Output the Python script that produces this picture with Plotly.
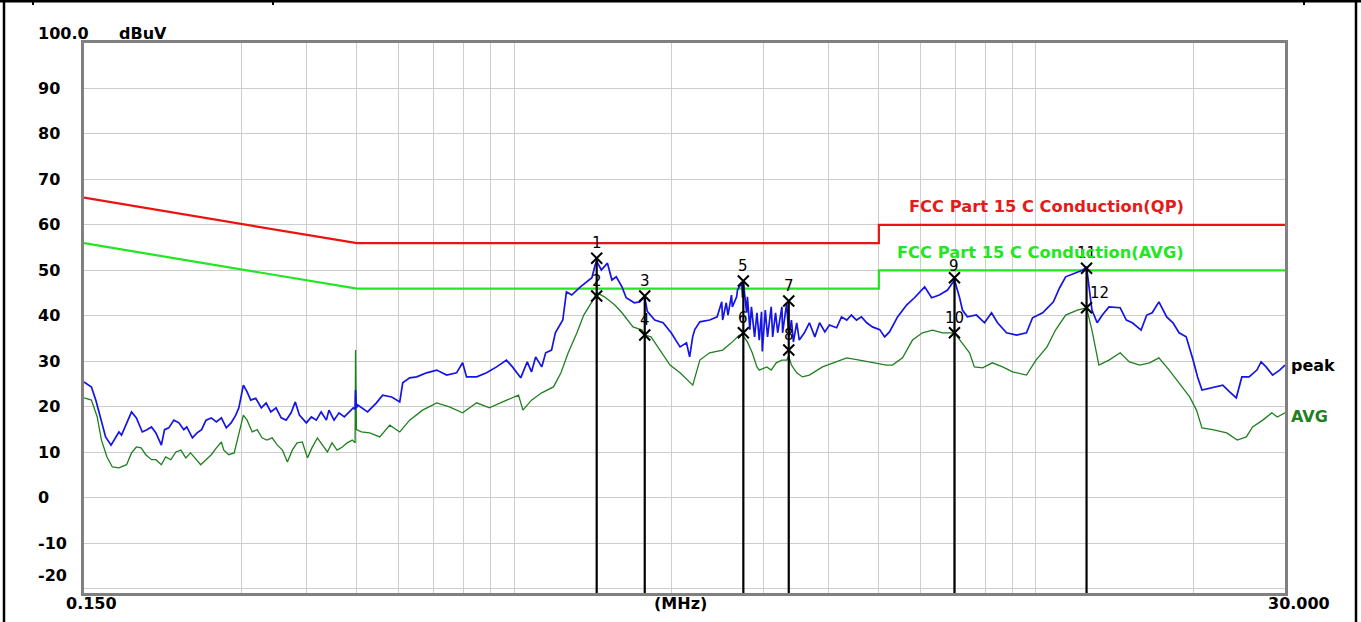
import math
import plotly.graph_objects as go

# ---------------- data (MHz, dBuV) ----------------
peak_freq = [0.150,0.155,0.158,0.162,0.165,0.169,0.173,0.175,0.177,0.181,
             0.185,0.189,0.194,0.198,0.202,0.206,0.211,0.214,0.218,0.223,
             0.228,0.233,0.236,0.242,0.247,0.252,0.257,0.263,0.269,0.275,
             0.281,0.287,0.293,0.297,0.303,0.308,0.313,0.320,0.328,0.335,
             0.342,0.350,0.358,0.366,0.374,0.381,0.388,0.400,0.409,0.418,
             0.427,0.437,0.442,0.452,0.462,0.473,0.483,0.492,0.496,0.497,
             0.499,0.502,0.524,0.545,0.560,0.583,0.604,0.612,0.631,0.651,
             0.680,0.711,0.743,0.776,0.797,0.811,0.848,0.886,0.926,0.967,
             0.993,1.03,1.06,1.08,1.10,1.13,1.15,1.18,1.20,1.22,
             1.24,1.26,1.29,1.34,1.38,1.41,1.43,1.44,1.47,1.51,
             1.54,1.57,1.61,1.64,1.70,1.74,1.78,1.80,1.86,1.93,
             2.00,2.08,2.14,2.17,2.20,2.22,2.27,2.37,2.45,2.50,
             2.51,2.55,2.57,2.61,2.62,2.67,2.68,2.73,2.74,2.75,
             2.79,2.80,2.83,2.85,2.89,2.92,2.95,2.98,2.99,3.03,
             3.06,3.11,3.13,3.17,3.20,3.26,3.27,3.33,3.36,3.40,
             3.43,3.48,3.52,3.60,3.68,3.77,3.85,3.94,4.02,4.15,
             4.24,4.34,4.43,4.53,4.63,4.74,4.86,5.02,5.13,5.24,
             5.43,5.65,5.85,6.12,6.31,6.53,6.77,6.98,7.14,7.23,
             7.39,7.69,7.97,8.22,8.44,8.78,9.18,9.59,9.85,10.3,
             10.8,11.1,11.4,11.9,12.3,12.5,12.8,13.1,13.4,13.8,
             14.5,14.9,15.3,15.9,16.3,16.7,17.2,17.8,18.3,18.8,
             19.4,20.0,20.4,20.8,21.8,22.8,23.5,24.2,24.8,25.6,
             26.5,27.0,27.6,28.4,29.3,30.0]
peak_db = [25.5,24.4,21.5,17.1,13.4,11.6,13.4,14.5,13.8,16.5,
           18.9,17.6,14.5,15.0,15.6,14.3,11.6,15.0,15.4,17.1,
           16.5,15.0,15.6,13.2,14.3,15.0,17.1,17.6,16.7,17.6,
           15.4,16.5,18.2,19.8,24.8,23.3,21.5,21.9,19.8,20.9,
           18.9,19.8,17.6,17.1,18.7,21.1,18.2,16.5,17.8,17.1,
           18.9,17.1,19.3,17.1,18.7,17.8,18.9,19.8,19.5,23.7,
           19.8,20.4,18.9,20.9,22.6,22.2,21.1,25.3,26.4,26.6,
           27.5,28.1,27.0,27.5,29.7,26.6,26.6,27.5,28.8,30.3,
           28.8,26.4,29.9,27.7,31.0,28.8,31.9,32.5,36.3,37.6,
           39.1,45.3,44.6,46.4,47.5,48.4,51.2,52.0,50.1,51.6,
           47.9,48.6,46.4,44.0,42.9,43.1,44.2,41.0,39.1,38.5,
           36.3,33.2,34.1,31.0,35.5,37.0,38.7,39.1,39.8,43.1,
           39.1,42.9,40.2,44.6,42.0,44.2,45.7,47.3,44.0,47.5,
           40.7,44.2,37.0,42.0,35.4,40.7,34.7,40.9,32.2,41.3,
           35.4,42.0,35.4,40.7,36.3,42.0,36.3,42.9,35.4,39.1,
           34.3,38.5,34.7,36.3,38.5,35.4,38.5,36.5,38.0,37.4,
           39.8,39.1,40.2,39.1,39.8,38.5,37.6,37.0,35.4,36.5,
           39.8,42.4,44.0,46.4,44.0,44.6,45.7,47.9,44.0,41.3,
           39.8,40.2,38.5,40.7,38.5,36.3,35.8,36.3,39.6,40.7,
           43.1,46.2,48.6,49.5,50.1,50.8,41.3,38.5,40.2,42.0,
           41.8,39.1,38.5,36.9,40.2,40.7,43.1,39.8,38.5,36.3,
           35.4,30.3,26.6,23.7,24.2,24.8,23.3,22.0,26.6,26.6,
           28.1,29.9,28.8,27.0,28.1,29.2]

avg_freq = [0.150,0.155,0.159,0.162,0.166,0.170,0.175,0.181,0.185,0.189,
            0.193,0.197,0.202,0.206,0.211,0.215,0.220,0.225,0.230,0.235,
            0.240,0.246,0.251,0.257,0.263,0.269,0.275,0.278,0.284,0.291,
            0.296,0.303,0.308,0.315,0.322,0.329,0.336,0.344,0.352,0.360,
            0.368,0.376,0.384,0.393,0.402,0.410,0.420,0.429,0.439,0.448,
            0.458,0.469,0.479,0.490,0.496,0.497,0.499,0.510,0.529,0.553,
            0.578,0.604,0.631,0.668,0.711,0.752,0.797,0.848,0.897,0.951,
            1.02,1.04,1.08,1.13,1.19,1.23,1.27,1.32,1.36,1.41,
            1.44,1.49,1.56,1.61,1.69,1.76,1.78,1.83,1.90,1.99,
            2.08,2.20,2.27,2.37,2.51,2.62,2.70,2.74,2.80,2.86,
            2.92,2.95,3.05,3.11,3.18,3.26,3.33,3.36,3.40,3.48,
            3.57,3.68,3.90,4.15,4.34,4.59,4.86,5.17,5.31,5.55,
            5.80,6.06,6.34,6.62,6.98,7.23,7.46,7.62,7.90,8.25,
            8.63,9.02,9.59,10.0,10.5,10.9,11.4,12.0,12.5,12.8,
            13.2,13.8,14.5,15.1,15.8,16.5,17.2,18.0,18.8,19.7,
            20.3,20.8,21.8,23.2,24.3,25.3,26.0,27.2,28.3,29.0,
            30.0]
avg_db = [22.0,21.5,17.8,12.7,9.0,6.8,6.6,7.3,9.9,11.2,
          11.0,9.5,8.4,8.4,7.3,9.0,8.4,10.1,10.5,8.8,
          9.9,8.4,7.3,8.4,9.5,11.0,12.3,10.5,9.5,9.9,
          13.2,18.2,17.1,14.5,15.0,13.2,12.7,13.2,11.6,10.5,
          7.9,10.5,12.1,12.3,8.8,11.0,13.2,11.6,10.1,12.1,
          10.5,11.2,12.1,12.7,12.1,32.5,15.0,14.5,14.3,13.4,
          16.0,14.5,17.1,19.3,20.9,20.0,18.7,20.9,19.8,21.1,
          22.6,19.3,21.5,23.1,24.4,27.5,31.9,36.3,40.2,43.1,
          45.1,44.2,42.4,40.7,37.6,36.9,35.8,35.4,32.5,29.2,
          27.5,24.8,30.3,31.9,32.5,34.3,35.8,35.8,34.3,31.9,
          28.8,28.1,28.8,28.1,29.7,30.3,30.3,31.2,29.2,27.5,
          26.6,27.0,28.8,29.9,30.8,30.3,29.7,29.2,29.2,30.8,
          34.7,36.3,36.9,36.3,36.3,34.1,31.9,28.8,28.6,29.7,
          28.8,27.7,27.0,30.3,33.2,36.9,40.2,41.3,41.8,36.9,
          29.2,30.3,31.9,29.9,29.2,29.7,30.8,28.1,25.3,22.2,
          19.3,15.4,15.0,14.3,12.7,13.4,15.6,17.1,18.7,17.8,
          18.7]

limit_freq = [0.15, 0.5, 5.0, 5.0, 30.0]
qp_limit = [66, 56, 56, 60, 60]
avg_limit = [56, 46, 46, 50, 50]

marker_ids = ["1", "2", "3", "4", "5", "6", "7", "8", "9", "10", "11", "12"]
marker_freq = [1.44, 1.44, 1.78, 1.78, 2.75, 2.75, 3.36, 3.36, 6.98, 6.98, 12.5, 12.5]
marker_db = [52.7, 44.4, 44.4, 35.8, 47.7, 36.3, 43.3, 32.5, 48.4, 36.3, 50.5, 41.8]

y_ticks = [100, 90, 80, 70, 60, 50, 40, 30, 20, 10, 0, -10, -20]
y_tick_text = ["100.0", "90", "80", "70", "60", "50", "40", "30", "20", "10", "0", "-10", "-20"]
x_grid = [0.3, 0.4, 0.5, 0.6, 0.7, 0.8, 0.9, 1, 2, 3, 4, 5, 6, 7, 8, 9, 10, 20]

assert len(peak_freq) == len(peak_db)
assert len(avg_freq) == len(avg_db)

Y_MIN, Y_MAX = -20.9, 100
BOLD = "DejaVu Sans"

fig = go.Figure()

# limit lines
fig.add_trace(go.Scatter(x=limit_freq, y=qp_limit, mode="lines",
                         line=dict(color="#ee1111", width=2.2), hoverinfo="skip"))
fig.add_trace(go.Scatter(x=limit_freq, y=avg_limit, mode="lines",
                         line=dict(color="#22e622", width=2.2), hoverinfo="skip"))

# measured traces
fig.add_trace(go.Scatter(x=avg_freq, y=avg_db, mode="lines",
                         line=dict(color="#1f801f", width=1.3), hoverinfo="skip"))
fig.add_trace(go.Scatter(x=peak_freq, y=peak_db, mode="lines",
                         line=dict(color="#1414e6", width=1.7), hoverinfo="skip"))

# vertical marker lines (from the upper marker of each pair down to the axis)
vx, vy = [], []
for i in range(0, len(marker_freq), 2):
    top = max(marker_db[i], marker_db[i + 1])
    vx += [marker_freq[i], marker_freq[i], None]
    vy += [top, Y_MIN, None]
fig.add_trace(go.Scatter(x=vx, y=vy, mode="lines",
                         line=dict(color="black", width=2.2), hoverinfo="skip"))

# markers
fig.add_trace(go.Scatter(
    x=marker_freq, y=marker_db, mode="markers",
    marker=dict(symbol="x-thin-open", size=11, color="black",
                line=dict(color="black", width=2)),
    hoverinfo="skip"))

annotations = []
# marker numbers (annotation x on a log axis is given in log10 units)
for i, (mid, mf, mv) in enumerate(zip(marker_ids, marker_freq, marker_db)):
    xs = 13 if mid == "12" else 0
    ys = 12 if mid == "9" else 15
    annotations.append(dict(xref="x", yref="y", x=math.log10(mf), y=mv, xshift=xs, yshift=ys,
                            xanchor="center", yanchor="middle", showarrow=False,
                            text=mid, font=dict(family="DejaVu Sans", size=15, color="black")))
# y tick labels
for v, t in zip(y_ticks, y_tick_text):
    ys = 0
    if v == 100:
        ys = 10
    elif v == -20:
        ys = 13
    annotations.append(dict(xref="paper", yref="y", x=0, y=v, xshift=-48, yshift=ys,
                            xanchor="left", yanchor="middle", showarrow=False,
                            text="<b>%s</b>" % t,
                            font=dict(family=BOLD, size=16, color="black")))
annotations.append(dict(xref="paper", yref="y", x=0, y=100, xshift=33, yshift=10,
                        xanchor="left", yanchor="middle", showarrow=False,
                        text="<b>dBuV</b>", font=dict(family=BOLD, size=16, color="black")))
# x labels
annotations.append(dict(xref="paper", yref="paper", x=0, y=0, xshift=7, yshift=-10,
                        xanchor="center", yanchor="middle", showarrow=False,
                        text="<b>0.150</b>", font=dict(family=BOLD, size=16, color="black")))
annotations.append(dict(xref="paper", yref="paper", x=1, y=0, xshift=14, yshift=-10,
                        xanchor="center", yanchor="middle", showarrow=False,
                        text="<b>30.000</b>", font=dict(family=BOLD, size=16, color="black")))
annotations.append(dict(xref="paper", yref="paper", x=0.4963, y=0, yshift=-10,
                        xanchor="center", yanchor="middle", showarrow=False,
                        text="<b>(MHz)</b>", font=dict(family=BOLD, size=16, color="black")))
# limit labels
annotations.append(dict(xref="paper", yref="y", x=0.9176, y=64.0,
                        xanchor="right", yanchor="middle", showarrow=False,
                        text="<b>FCC Part 15 C Conduction(QP)</b>",
                        font=dict(family=BOLD, size=16.3, color="#e31b1b")))
annotations.append(dict(xref="paper", yref="y", x=0.9176, y=53.9,
                        xanchor="right", yanchor="middle", showarrow=False,
                        text="<b>FCC Part 15 C Conduction(AVG)</b>",
                        font=dict(family=BOLD, size=16.3, color="#22e622")))
# trace labels
annotations.append(dict(xref="paper", yref="y", x=1, y=29.1, xshift=4,
                        xanchor="left", yanchor="middle", showarrow=False,
                        text="<b>peak</b>", font=dict(family=BOLD, size=16, color="black")))
annotations.append(dict(xref="paper", yref="y", x=1, y=17.9, xshift=4,
                        xanchor="left", yanchor="middle", showarrow=False,
                        text="<b>AVG</b>", font=dict(family=BOLD, size=16, color="#1f801f")))

# page border (document table cell edges)
W, H = 1201.0, 550.0
def px(xp):
    return (xp - 84) / W
def py(yp):
    return (593 - yp) / H
shapes = [
    dict(type="line", xref="paper", yref="paper", x0=px(0), x1=px(1361), y0=py(1), y1=py(1),
         line=dict(color="black", width=3)),
    dict(type="line", xref="paper", yref="paper", x0=px(4), x1=px(4), y0=py(0), y1=py(622),
         line=dict(color="black", width=2.5)),
    dict(type="line", xref="paper", yref="paper", x0=px(1356), x1=px(1356), y0=py(0), y1=py(622),
         line=dict(color="black", width=2.5)),
]
for tx in [33, 273, 1304]:
    shapes.append(dict(type="line", xref="paper", yref="paper", x0=px(tx), x1=px(tx),
                       y0=py(0), y1=py(5), line=dict(color="black", width=2)))

fig.update_layout(
    width=1361, height=622,
    margin=dict(l=84, r=76, t=43, b=29),
    paper_bgcolor="white", plot_bgcolor="white",
    showlegend=False,
    annotations=annotations,
    shapes=shapes,
    xaxis=dict(type="log", range=[-0.82391, 1.47712],
               tickvals=x_grid, showticklabels=False, ticks="",
               showgrid=True, gridcolor="#cdcdcd", gridwidth=1.3,
               showline=True, linecolor="#808080", linewidth=2.5, mirror=True,
               zeroline=False, fixedrange=True),
    yaxis=dict(range=[Y_MIN, Y_MAX], tickvals=y_ticks, showticklabels=False, ticks="",
               showgrid=True, gridcolor="#cdcdcd", gridwidth=1.3,
               showline=True, linecolor="#808080", linewidth=2.5, mirror=True,
               zeroline=False, fixedrange=True),
)

fig.write_html("out.html", config={"displayModeBar": False},
               post_script="document.body.style.margin='0';document.body.style.overflow='hidden';")
